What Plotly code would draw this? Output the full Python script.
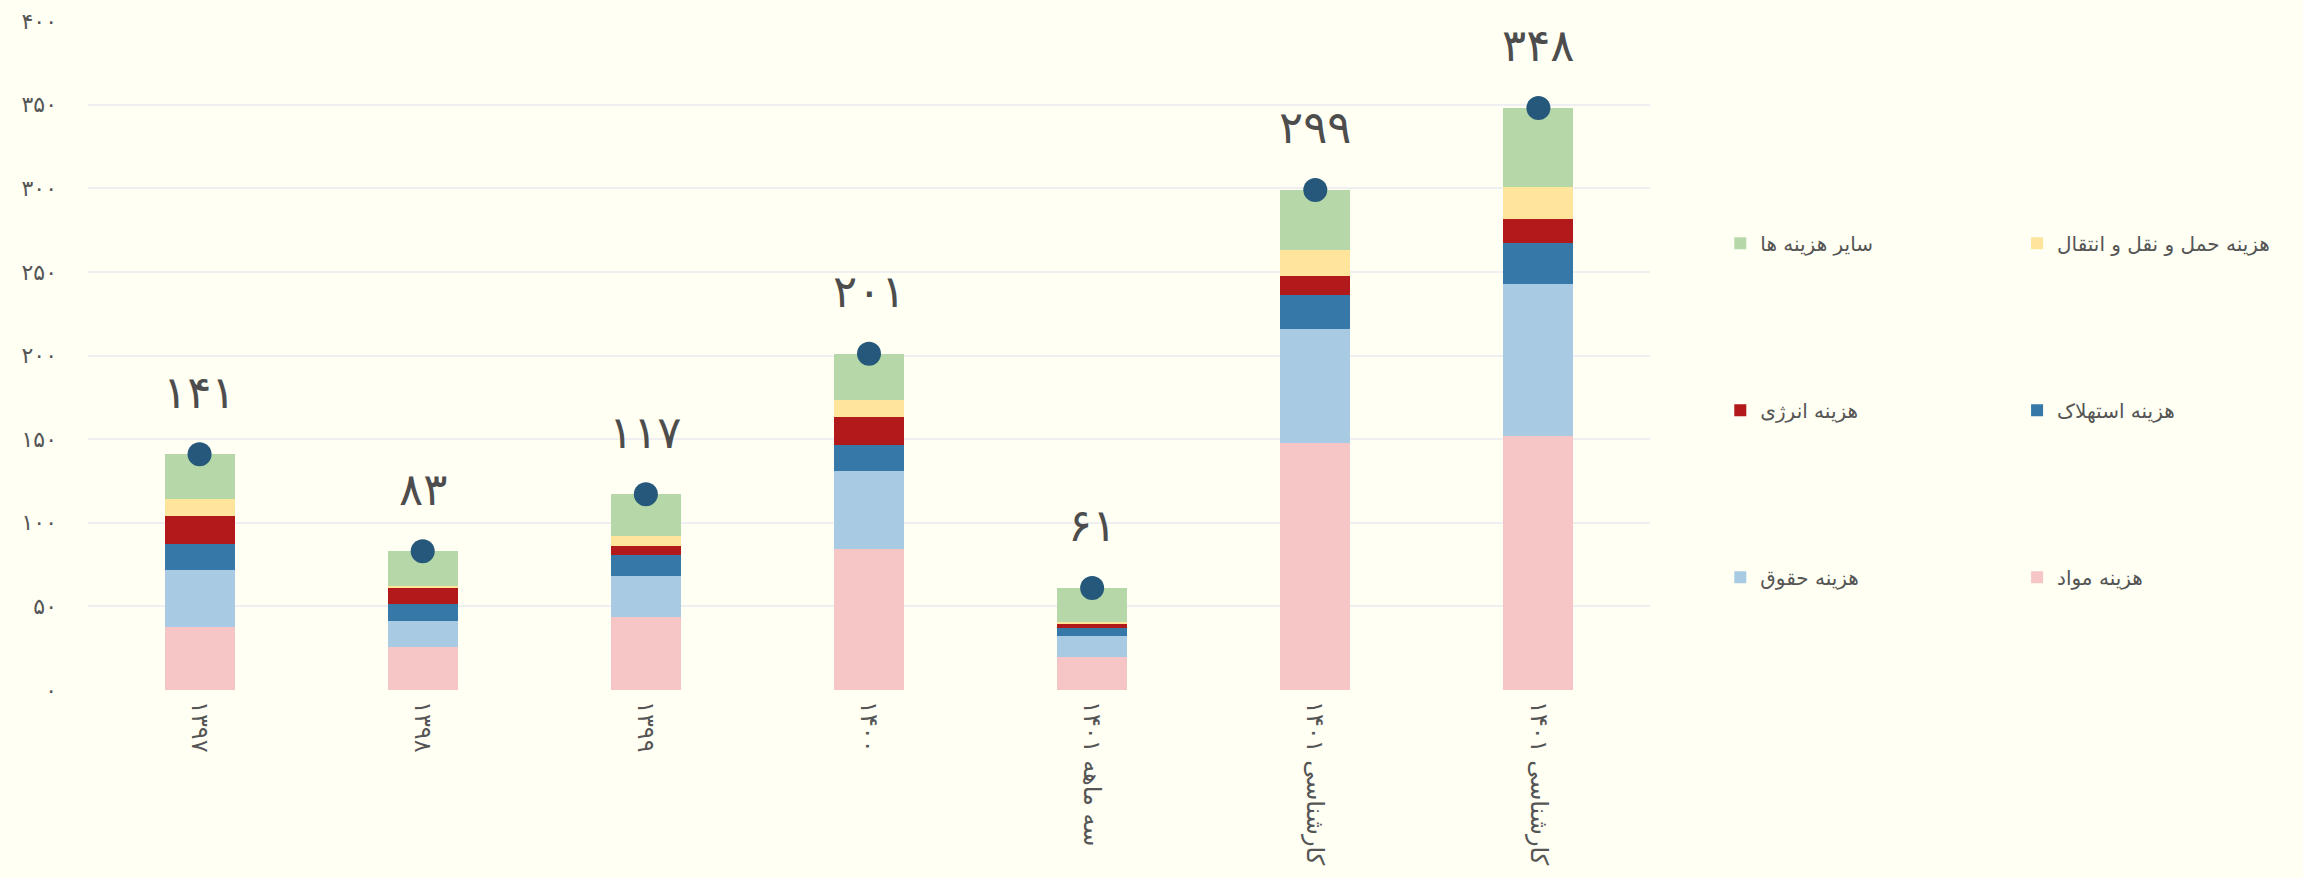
import plotly.graph_objects as go

categories = ["۱۳۹۷", "۱۳۹۸", "۱۳۹۹", "۱۴۰۰", "سه ماهه ۱۴۰۱", "کارشناسی ۱۴۰۱", "کارشناسی ۱۴۰۱"]

materials = [37.4, 26.0, 43.4, 84.1, 19.9, 147.7, 152.0]      # هزینه مواد
salaries = [34.1, 15.0, 24.5, 46.6, 12.5, 68.0, 90.8]         # هزینه حقوق
depreciation = [16.0, 10.6, 12.8, 16.0, 4.4, 20.7, 24.7]      # هزینه استهلاک
energy = [16.3, 9.1, 5.3, 16.3, 2.6, 11.0, 14.0]              # هزینه انرژی
transport = [10.6, 1.2, 5.8, 10.6, 1.4, 15.4, 19.5]           # هزینه حمل و نقل و انتقال
other = [26.6, 21.1, 25.2, 27.4, 20.2, 36.2, 47.0]            # سایر هزینه ها
totals = [141, 83, 117, 201, 61, 299, 348]

y_ticks = [0, 50, 100, 150, 200, 250, 300, 350, 400]

BG = "#fffff3"
TEXT = "#555555"
FONT = "DejaVu Sans"


def fa_digits(v):
    return str(v).translate(str.maketrans("0123456789", "۰۱۲۳۴۵۶۷۸۹"))


x = list(range(len(categories)))

# name, values, colour, legend column, row in legend
series = [
    ("هزینه مواد", materials, "#f6c5c6", "legend2", 3),
    ("هزینه حقوق", salaries, "#a8cbe3", "legend", 3),
    ("هزینه استهلاک", depreciation, "#3679a8", "legend2", 2),
    ("هزینه انرژی", energy, "#b2191b", "legend", 2),
    ("هزینه حمل و نقل و انتقال", transport, "#fee59b", "legend2", 1),
    ("سایر هزینه ها", other, "#b6d8a9", "legend", 1),
]

fig = go.Figure()
for name, vals, color, leg, rank in series:
    fig.add_trace(
        go.Bar(
            x=x,
            y=vals,
            name=name,
            marker=dict(color=color, line=dict(width=0)),
            legend=leg,
            legendgroup=name,
            legendrank=rank,
        )
    )

# total markers
fig.add_trace(
    go.Scatter(
        x=x,
        y=totals,
        mode="markers",
        marker=dict(color="#25587a", size=24),
        showlegend=False,
        hoverinfo="y",
    )
)

for xi, t in zip(x, totals):
    fig.add_annotation(
        x=xi,
        y=t,
        text=fa_digits(t),
        showarrow=False,
        yshift=62,
        font=dict(size=45, color="#4d4d4d", family=FONT),
    )

legend_style = dict(
    orientation="v",
    traceorder="grouped",
    tracegroupgap=138,
    bgcolor="rgba(0,0,0,0)",
    font=dict(size=20, color=TEXT, family=FONT),
    xanchor="left",
    yanchor="top",
    y=0.697,
)

fig.update_layout(
    width=2303,
    height=878,
    barmode="stack",
    bargap=0.686,
    paper_bgcolor=BG,
    plot_bgcolor=BG,
    margin=dict(l=88, r=653, t=21, b=188, autoexpand=False),
    font=dict(family=FONT, color=TEXT),
    legend=dict(legend_style, x=1.045),
    legend2=dict(legend_style, x=1.235),
    xaxis=dict(
        range=[-0.5, len(categories) - 0.5],
        tickvals=x,
        ticktext=categories,
        tickangle=90,
        tickfont=dict(size=24, color=TEXT, family=FONT),
        showgrid=False,
        zeroline=False,
        ticks="",
        ticklabelstandoff=10,
    ),
    yaxis=dict(
        range=[0, 400],
        tickvals=y_ticks,
        ticktext=[fa_digits(v) for v in y_ticks],
        tickfont=dict(size=22, color=TEXT, family=FONT),
        gridcolor="#efeff1",
        gridwidth=2,
        zeroline=False,
        ticks="",
        ticklabelstandoff=30,
    ),
)

fig.write_html(
    "out.html",
    config={"displayModeBar": False},
    post_script="document.body.style.margin='0';",
)
